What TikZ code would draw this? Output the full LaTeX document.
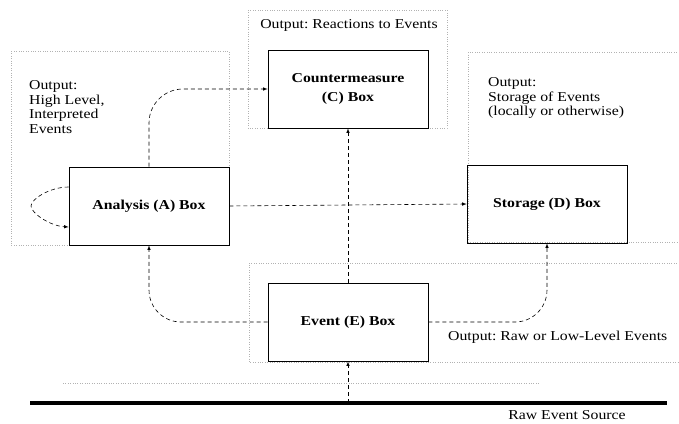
\documentclass[tikz,border=0pt]{standalone}
\usepackage{fontspec}
\setmainfont[FakeStretch=1.16]{Liberation Serif}
\usetikzlibrary{calc,positioning}
\frenchspacing

\begin{document}
\begin{tikzpicture}[
    x=1pt, y=-1pt,
    font={\fontsize{13.6}{14.6}\selectfont},
    box/.style={draw, semithick, minimum width=160pt, minimum height=78pt, inner sep=0,
      align=center, font={\fontsize{13.6}{19}\selectfont\bfseries}},
    flow/.style={draw, semithick, dash pattern=on 4pt off 3pt, -latex},
    region/.style={draw=black!30, dotted},
    outtext/.style={inner sep=0, align=left, anchor=west}
  ]
  \useasboundingbox (0,0) rectangle (679,423);

  \draw[region] (11,51) rectangle (229,245);
  \draw[region] (248,10) rectangle (447,128);
  \draw[region] (679,52) -- (468,52) -- (468,242) -- (679,242);
  \draw[region] (679,263) -- (249,263) -- (249,362) -- (679,362);
  \draw[region] (63,383) -- (540,383);

  \node[box] (A) at (149,206) {Analysis (A) Box};
  \node[box] (C) at (348,89) {Countermeasure\\(C) Box};
  \node[box] (D) at (547,204) {Storage (D) Box};
  \node[box] (E) at (348,322) {Event (E) Box};

  \node (outC) at (349,25) {Output: Reactions to Events};
  \node[outtext] (outA) at (29,107) {Output:\\High Level,\\Interpreted\\Events};
  \node[outtext] (outD) at (488,98) {Output:\\Storage of Events\\(locally or otherwise)};
  \node[outtext] (outE) at (448,337) {Output: Raw or Low-Level Events};

  \coordinate (srcL) at (30,403);
  \coordinate (srcR) at (667,403);
  \draw[line width=3.5pt] (srcL) -- (srcR);
  \node (src) at (567,415) {Raw Event Source};

  \draw[flow] (E |- srcL) -- (E.south);
  \draw[flow] (E.north) -- (C.south);
  \draw[flow, rounded corners=32pt] (E.west) -| (A.south);
  \draw[flow, rounded corners=32pt] (E.east) -| (D.south);
  \draw[flow, rounded corners=34pt] (A.north) |- (C.west);
  \draw[flow] (A.east) -- (D.west);
  \draw[flow] ($(A.west)+(0,-19)$) .. controls (50,187) and (31,199) .. (31,206)
    .. controls (31,213) and (50,226) .. ($(A.west)+(0,21)$);
\end{tikzpicture}
\end{document}
